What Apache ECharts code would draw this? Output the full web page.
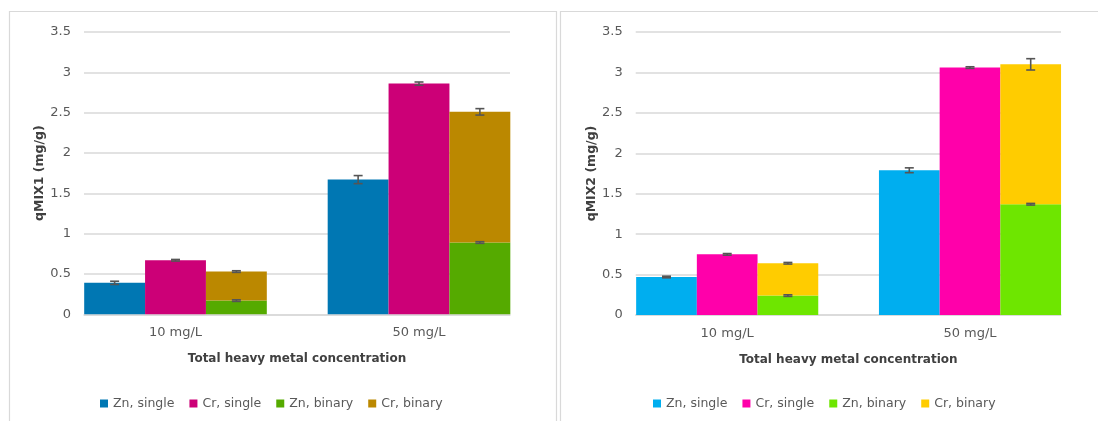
<!DOCTYPE html>
<html>
<head>
<meta charset="utf-8">
<script src="https://cdn.jsdelivr.net/npm/echarts@6/dist/echarts.min.js"></script>
<style>
  html, body { margin: 0; padding: 0; background: #ffffff; }
  #chart { width: 1098px; height: 421px; }
</style>
</head>
<body>
<div id="chart"></div>
<script>
// Categories and series
const categories = ['10 mg/L', '50 mg/L'];
const seriesNames = ['Zn, single', 'Cr, single', 'Zn, binary', 'Cr, binary'];
const yTicks = [0, 0.5, 1, 1.5, 2, 2.5, 3, 3.5];

// MIX1 sorbent (mg/g); "Cr, binary" is stacked on top of "Zn, binary"
const mix1ZnSingle = [0.39, 1.67];
const mix1CrSingle = [0.67, 2.86];
const mix1ZnBinary = [0.17, 0.89];
const mix1CrBinary = [0.36, 1.62];
const mix1ZnSingleErr = [0.02, 0.05];
const mix1CrSingleErr = [0.01, 0.02];
const mix1ZnBinaryErr = [0.01, 0.01];
const mix1CrBinaryErr = [0.01, 0.04];

// MIX2 sorbent (mg/g)
const mix2ZnSingle = [0.47, 1.79];
const mix2CrSingle = [0.75, 3.06];
const mix2ZnBinary = [0.24, 1.37];
const mix2CrBinary = [0.40, 1.73];
const mix2ZnSingleErr = [0.01, 0.03];
const mix2CrSingleErr = [0.01, 0.01];
const mix2ZnBinaryErr = [0.01, 0.01];
const mix2CrBinaryErr = [0.01, 0.07];

const palette1 = ['#0077B3', '#CC0077', '#55AA00', '#BB8800'];
const palette2 = ['#00AEEF', '#FF00AA', '#6EE600', '#FFCC00'];

const FONT = 'DejaVu Sans';
const TICK_COLOR = '#595959';
const GRID_COLOR = '#D9D9D9';

// Error bar drawn at a bar slot (-1, 0, 1) inside the category band
function errorRenderer(params, api) {
  const cat = api.value(0);
  const top = api.value(1);
  const err = api.value(2);
  const slot = api.value(3);
  const band = api.size([1, 0])[0];
  const barW = band * 0.75 / 3;
  const x = api.coord([cat, top])[0] + slot * barW;
  const yHi = api.coord([cat, top + err])[1];
  const yLo = api.coord([cat, top - err])[1];
  const half = 4.5;
  const style = { stroke: '#555555', lineWidth: 1.6 };
  return {
    type: 'group',
    children: [
      { type: 'line', shape: { x1: x, y1: yHi, x2: x, y2: yLo }, style },
      { type: 'line', shape: { x1: x - half, y1: yHi, x2: x + half, y2: yHi }, style },
      { type: 'line', shape: { x1: x - half, y1: yLo, x2: x + half, y2: yLo }, style }
    ]
  };
}

function errorData(zs, cs, zb, cb, zsE, csE, zbE, cbE) {
  const out = [];
  categories.forEach((c, i) => {
    out.push([i, zs[i], zsE[i], -1]);
    out.push([i, cs[i], csE[i], 0]);
    out.push([i, zb[i], zbE[i], 1]);
    out.push([i, zb[i] + cb[i], cbE[i], 1]);
  });
  return out;
}

// Panel geometry: frame grid (gridlines + y axis) and bar grid (category bands)
const panels = [
  { frameLeft: 84, frameWidth: 426, barLeft: 53.75, barWidth: 487, top: 32, height: 282.3,
    yName: 'qMIX1 (mg/g)', palette: palette1,
    data: [mix1ZnSingle, mix1CrSingle, mix1ZnBinary, mix1CrBinary],
    err: [mix1ZnSingleErr, mix1CrSingleErr, mix1ZnBinaryErr, mix1CrBinaryErr],
    legendLeft: 95 },
  { frameLeft: 635.7, frameWidth: 425.3, barLeft: 605.8, barWidth: 485.6, top: 32, height: 283,
    yName: 'qMIX2 (mg/g)', palette: palette2,
    data: [mix2ZnSingle, mix2CrSingle, mix2ZnBinary, mix2CrBinary],
    err: [mix2ZnSingleErr, mix2CrSingleErr, mix2ZnBinaryErr, mix2CrBinaryErr],
    legendLeft: 648 }
];

const grid = [], xAxis = [], yAxis = [], series = [], legend = [];

panels.forEach((p, k) => {
  const fi = k * 2, bi = k * 2 + 1;
  grid.push({ left: p.frameLeft, width: p.frameWidth, top: p.top, height: p.height });
  grid.push({ left: p.barLeft, width: p.barWidth, top: p.top, height: p.height });

  xAxis.push({
    gridIndex: fi, type: 'category', data: categories,
    axisLabel: { show: false }, axisTick: { show: false },
    axisLine: { lineStyle: { color: GRID_COLOR, width: 1.5 } },
    name: 'Total heavy metal concentration', nameLocation: 'middle', nameGap: 39,
    nameTextStyle: { fontFamily: FONT, fontSize: 12, fontWeight: 'bold', color: '#404040' }
  });
  xAxis.push({
    gridIndex: bi, type: 'category', data: categories,
    axisLine: { show: false }, axisTick: { show: false },
    axisLabel: { fontFamily: FONT, fontSize: 13, color: TICK_COLOR, margin: 12 }
  });

  yAxis.push({
    gridIndex: fi, type: 'value', min: yTicks[0], max: yTicks[yTicks.length - 1], interval: 0.5,
    axisLine: { show: false }, axisTick: { show: false },
    axisLabel: { fontFamily: FONT, fontSize: 13, color: TICK_COLOR, margin: 13 },
    splitLine: { lineStyle: { color: GRID_COLOR, width: 1.5 } },
    name: p.yName, nameLocation: 'middle', nameGap: 36, nameRotate: 90,
    nameTextStyle: { fontFamily: FONT, fontSize: 12.5, fontWeight: 'bold', color: '#404040' }
  });
  yAxis.push({
    gridIndex: bi, type: 'value', min: yTicks[0], max: yTicks[yTicks.length - 1], show: false
  });

  seriesNames.forEach((name, j) => {
    series.push({
      name, type: 'bar', xAxisIndex: bi, yAxisIndex: bi,
      data: p.data[j],
      stack: j >= 2 ? 'binary' + k : undefined,
      barGap: '0%', barCategoryGap: '25%',
      itemStyle: { color: p.palette[j] },
      emphasis: { disabled: true }
    });
  });

  series.push({
    type: 'custom', xAxisIndex: bi, yAxisIndex: bi, z: 5,
    renderItem: errorRenderer,
    encode: { x: 0, y: 1 },
    data: errorData(...p.data, ...p.err),
    silent: true
  });

  legend.push({
    data: seriesNames.map((n, j) => ({ name: n, itemStyle: { color: p.palette[j] } })),
    left: p.legendLeft, top: 392,
    icon: 'rect', itemWidth: 8, itemHeight: 8, itemGap: 15,
    textStyle: { fontFamily: FONT, fontSize: 12.5, color: TICK_COLOR },
    selectedMode: false
  });
});

const chart = echarts.init(document.getElementById('chart'), null, { renderer: 'canvas' });
chart.setOption({
  animation: false,
  backgroundColor: '#ffffff',
  grid, xAxis, yAxis, series, legend,
  graphic: [
    { type: 'polyline', shape: { points: [[9.5, 430], [9.5, 11.5], [556.5, 11.5], [556.5, 430]] },
      style: { stroke: GRID_COLOR, lineWidth: 1.2, fill: null }, silent: true },
    { type: 'polyline', shape: { points: [[560.5, 430], [560.5, 11.5], [1100, 11.5]] },
      style: { stroke: GRID_COLOR, lineWidth: 1.2, fill: null }, silent: true }
  ]
});
</script>
</body>
</html>
